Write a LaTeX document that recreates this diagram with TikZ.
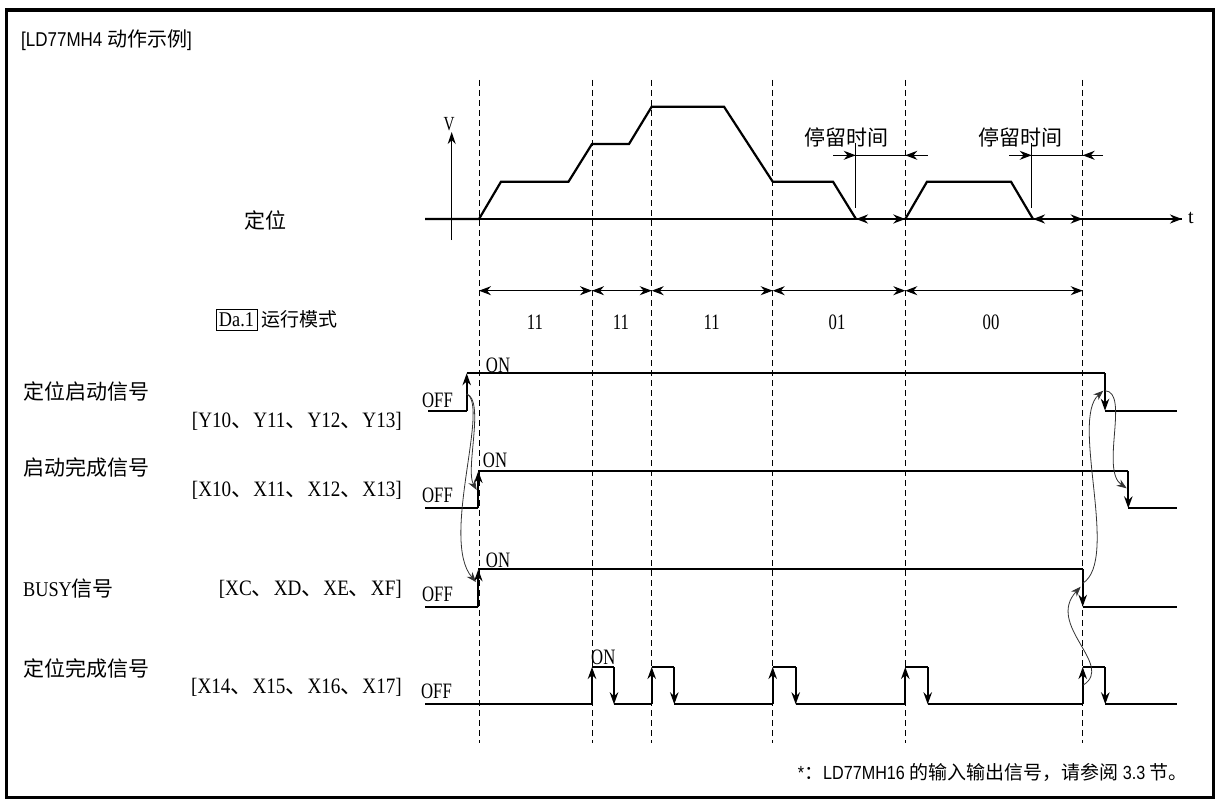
\documentclass[tikz,border=0pt]{standalone}
\usepackage{fontspec}
\setmainfont{Liberation Serif}
\newfontfamily\cjk{Noto Sans CJK SC}
\newfontfamily\lat{Liberation Serif}[FakeStretch=0.76]
\newfontfamily\latw{Liberation Serif}[FakeStretch=0.87]
\newfontfamily\sns{Liberation Sans}[FakeStretch=0.85]
\usetikzlibrary{arrows.meta}
\newcommand\zh[1]{{\cjk #1}}
\newcommand\dun{{\cjk 、}}
\tikzset{
  frame/.style={line width=3.5pt},
  sig/.style={line width=1.8pt},
  edgeup/.style={line width=1.8pt,-{Stealth[length=12pt,width=8.5pt]}},
  dashln/.style={line width=1pt,dash pattern=on 6pt off 4pt},
  axisln/.style={line width=1.1pt},
  prof/.style={line width=2.2pt},
  dimarr/.style={line width=1.1pt,{Stealth[length=12pt,width=9pt]}-{Stealth[length=12pt,width=9pt]}},
  halfarr/.style={line width=1.1pt,-{Stealth[length=12pt,width=9pt]}},
  basearr/.style={line width=2.2pt,{Stealth[length=12pt,width=9pt]}-{Stealth[length=12pt,width=9pt]}},
  curv/.style={line width=0.8pt,draw=black!80,-{Stealth[length=10pt,width=7.5pt]}},
  lab/.style={font=\fontsize{21}{23}\selectfont\cjk,inner sep=0pt},
  brk/.style={font=\fontsize{22}{24}\selectfont\latw,inner sep=0pt,anchor=east},
  lvl/.style={font=\fontsize{22}{24}\selectfont\lat,inner sep=0pt},
}
\begin{document}
\begin{tikzpicture}[x=1pt,y=-1pt]
\useasboundingbox (0,0) rectangle (1216,800);
\draw[frame] (6.5,10) rectangle (1213.5,797.5);

% title and footnote
\node[inner sep=0pt,anchor=west,font=\fontsize{20}{22}\selectfont\sns] (title) at (21,40) {[LD77MH4 \zh{动作示例}]};
\node[inner sep=0pt,anchor=east,font=\fontsize{19}{21}\selectfont\sns] (foot) at (1188,772) {*\zh{：}LD77MH16 \zh{的输入输出信号，请参阅} 3.3 \zh{节。}};

% dashed time markers
\foreach \x/\n in {479.5/ta,592.5/tb,651.5/tc,772.5/td,905.5/te,1082.5/tf}{
  \coordinate (\n top) at (\x,80);
  \coordinate (\n bot) at (\x,743);
  \draw[dashln] (\n top) -- (\n bot);
}

% velocity graph
\coordinate (vb) at (451.7,240);
\coordinate (vt) at (451.7,132);
\draw[axisln,-{Stealth[length=12pt,width=8pt]}] (vb) -- (vt);
\node[lvl,font=\fontsize{20}{22}\selectfont\lat] (vlab) at (449,124) {V};
\coordinate (b0) at (425,219);
\coordinate (bt) at (1182,219);
\draw[axisln] (b0) -- (bt);
\node[lvl,font=\fontsize{20}{22}\selectfont\rmfamily] (tlab) at (1191,218) {t};
\draw[prof] (b0) -- (479,219) -- (501,181.7) -- (568.5,181.7) -- (592,144) -- (629,144)
  -- (651.7,106.7) -- (724,106.7) -- (772.7,181.7) -- (833,181.7) -- (856,219);
\draw[prof] (905.3,219) -- (927,181.7) -- (1011,181.7) -- (1033,219);
\coordinate (z1) at (856,219);
\coordinate (z2) at (905.3,219);
\coordinate (z3) at (1033,219);
\coordinate (z4) at (1082.7,219);
\draw[basearr] (z1) -- (z2);
\draw[basearr] (z3) -- (z4);
\draw[prof,-{Stealth[length=12pt,width=9pt]}] (z4) -- (bt);
\node[lab] (pos) at (265,220) {定位};

% dwell time annotations
\node[lab] (dw1) at (846,137) {停留时间};
\node[lab] (dw2) at (1020,137) {停留时间};
\draw[axisln] (855.7,143) -- (855.7,208);
\draw[axisln] (1031.7,143) -- (1031.7,208);
\draw[axisln] (833,155.3) -- (927.7,155.3);
\draw[axisln] (1009,155.3) -- (1103,155.3);
\draw[halfarr] (833,155.3) -- (855.7,155.3);
\draw[halfarr] (927.7,155.3) -- (905.3,155.3);
\draw[halfarr] (1009,155.3) -- (1031.7,155.3);
\draw[halfarr] (1103,155.3) -- (1082.7,155.3);

% operation pattern row
\node[draw,line width=0.9pt,minimum width=41pt,minimum height=21pt,inner sep=1pt,font=\fontsize{21}{22}\selectfont\latw] (da) at (236.5,319.5) {Da.1};
\node[lab,anchor=west,font=\fontsize{19}{21}\selectfont\cjk] (mode) at (261,319.5) {运行模式};
\foreach \a/\b in {479/592,592/651.7,651.7/772.7,772.7/905.3,905.3/1082.7}{
  \draw[dimarr] (\a,290.7) -- (\b,290.7);
}
\node[lvl] (m1) at (535,322) {11};
\node[lvl] (m2) at (621,322) {11};
\node[lvl] (m3) at (711.7,322) {11};
\node[lvl] (m4) at (837,322) {01};
\node[lvl] (m5) at (991,322) {00};

% signal labels
\node[lab,anchor=west] (s1) at (23,391.7) {定位启动信号};
\node[brk] (s1b) at (402,421.7) {[Y10\dun Y11\dun Y12\dun Y13]};
\node[lab,anchor=west] (s2) at (23,467.5) {启动完成信号};
\node[brk] (s2b) at (402,490) {[X10\dun X11\dun X12\dun X13]};
\node[lab,anchor=west] (s3) at (23,589) {{\latw BUSY}信号};
\node[brk] (s3b) at (402,589) {[XC\dun XD\dun XE\dun XF]};
\node[lab,anchor=west] (s4) at (23,668) {定位完成信号};
\node[brk] (s4b) at (402,687) {[X14\dun X15\dun X16\dun X17]};

% OFF / ON
\node[lvl] (off1) at (437.5,400) {OFF};
\node[lvl] (off2) at (437.5,495.5) {OFF};
\node[lvl] (off3) at (437.5,594) {OFF};
\node[lvl] (off4) at (436.5,691.7) {OFF};
\node[lvl] (on1) at (498,365) {ON};
\node[lvl] (on2) at (495,460) {ON};
\node[lvl] (on3) at (498,560) {ON};
\node[lvl] (on4) at (603.3,657) {ON};

% signal 1: positioning start
\coordinate (a0) at (428,410.7);
\coordinate (a1) at (466.7,410.7);
\coordinate (a2) at (466.7,373.3);
\coordinate (a3) at (1105,373.3);
\coordinate (a4) at (1105,410.7);
\coordinate (a5) at (1176.7,410.7);
\draw[sig] (a0) -- (a1);
\draw[edgeup] (a1) -- (a2);
\draw[sig] (a2) -- (a3);
\draw[edgeup] (a3) -- (a4);
\draw[sig] (a4) -- (a5);

% signal 2: start complete
\coordinate (b0s) at (425,508.3);
\coordinate (b1) at (478.3,508.3);
\coordinate (b2) at (478.3,471);
\coordinate (b3) at (1128.3,471);
\coordinate (b4) at (1128.3,508.3);
\coordinate (b5) at (1176.7,508.3);
\draw[sig] (b0s) -- (b1);
\draw[edgeup] (b1) -- (b2);
\draw[sig] (b2) -- (b3);
\draw[edgeup] (b3) -- (b4);
\draw[sig] (b4) -- (b5);

% signal 3: BUSY
\coordinate (c0) at (425,606.7);
\coordinate (c1) at (478.3,606.7);
\coordinate (c2) at (478.3,569.3);
\coordinate (c3) at (1082.7,569.3);
\coordinate (c4) at (1082.7,606.7);
\coordinate (c5) at (1176.7,606.7);
\draw[sig] (c0) -- (c1);
\draw[edgeup] (c1) -- (c2);
\draw[sig] (c2) -- (c3);
\draw[edgeup] (c3) -- (c4);
\draw[sig] (c4) -- (c5);

% signal 4: positioning complete
\coordinate (d0) at (425,704.3);
\draw[sig] (d0) -- (592,704.3);
\foreach \r/\f/\nx in {592/614/651.7,651.7/674.3/772.7,772.7/795.7/905.3,905.3/927.7/1082.7,1082.7/1105.3/1176.7}{
  \draw[edgeup] (\r,704.3) -- (\r,667);
  \draw[sig] (\r,667) -- (\f,667);
  \draw[edgeup] (\f,667) -- (\f,704.3);
  \draw[sig] (\f,704.3) -- (\nx,704.3);
}

% causal curves
\coordinate (k1) at (466.7,394);
\coordinate (k2) at (476.7,490);
\coordinate (k3) at (476,582);
\draw[curv] (k1) .. controls (485,400) and (465,470) .. (k2);
\draw[curv] (k1) .. controls (490,405) and (440,540) .. (k3);
\coordinate (r1) at (1105,390.7);
\coordinate (r2) at (1126.7,488.3);
\coordinate (r3) at (1082.7,583.3);
\coordinate (r4) at (1103.3,390.7);
\coordinate (r5) at (1083.3,685);
\coordinate (r6) at (1080.7,586.7);
\draw[curv] (r1) .. controls (1130,392) and (1100,470) .. (r2);
\draw[curv] (r3) .. controls (1120,560) and (1070,420) .. (r4);
\draw[curv] (r5) .. controls (1115,665) and (1045,625) .. (r6);
\end{tikzpicture}
\end{document}
